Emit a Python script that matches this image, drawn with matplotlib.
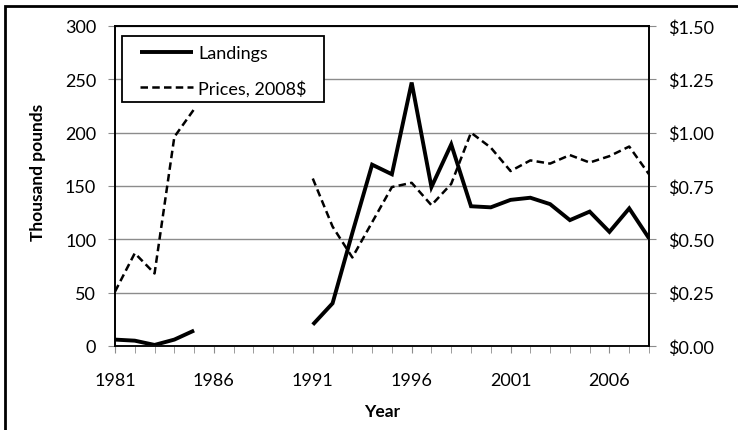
import numpy as np
import matplotlib
matplotlib.use("Agg")
import matplotlib.pyplot as plt
from matplotlib.patches import Rectangle
from matplotlib.lines import Line2D

plt.rcParams['font.family'] = ['Lato', 'DejaVu Sans']

years = list(range(1981, 2009))
landings = [6, 5, 1, 6, 14.5, None, None, None, None, None,
            20, 40, 106, 170, 161, 247, 149, 189, 131, 130,
            137, 139, 133, 118, 126, 107, 129, 101]
prices = [0.255, 0.435, 0.34, 0.98, 1.11, None, None, None, None, None,
          0.785, 0.56, 0.415, 0.58, 0.745, 0.765, 0.66, 0.76, 1.00, 0.93,
          0.82, 0.87, 0.855, 0.895, 0.86, 0.89, 0.935, 0.805]
left_ticks = [0, 50, 100, 150, 200, 250, 300]
right_ticks = [0.0, 0.25, 0.5, 0.75, 1.0, 1.25, 1.5]
right_labels = ['$0.00', '$0.25', '$0.50', '$0.75', '$1.00', '$1.25', '$1.50']
xlabels = [1981, 1986, 1991, 1996, 2001, 2006]
series_names = ['Landings', 'Prices, 2008$']

land = np.array([np.nan if v is None else v for v in landings], float)
pr = np.array([np.nan if v is None else v for v in prices], float)

W, H = 738, 431
fig = plt.figure(figsize=(W/100, H/100), dpi=100)
L, R, T, B = 115, 649, 27, 347
ax = fig.add_axes([L/W, 1-B/H, (R-L)/W, (B-T)/H])
ax2 = ax.twinx()

def px(x, y):
    return (x / W, 1 - y / H)

FS = 13
grid_c = '#8c8c8c'
ax.set_ylim(0, 300)
ax.set_xlim(1981, 2008)
ax.set_yticks(left_ticks)
ax.set_xticks(xlabels)
ax.set_xticks(years, minor=True)
ax.grid(axis='y', color=grid_c, lw=1.0)
ax.set_axisbelow(True)
ax.tick_params(axis='y', length=5, color=grid_c, labelsize=FS, pad=8.5)
ax.tick_params(axis='x', which='both', length=5, color=grid_c, labelsize=FS, pad=14)
ax2.set_ylim(0, 1.5)
ax2.set_yticks(right_ticks)
ax2.set_yticklabels(right_labels)
ax2.tick_params(axis='y', length=5, color=grid_c, labelsize=FS, pad=9)
for a in (ax, ax2):
    for s in a.spines.values():
        s.set_color('black')
        s.set_linewidth(1.2)
ax.spines['bottom'].set_color('#555555')

dash = (0, (3, 1.7))
ax.plot(years, land, color='black', lw=2.8, solid_capstyle='butt', solid_joinstyle='miter')
ax2.plot(years, pr, color='black', lw=1.8, ls=dash)

ax.set_ylabel('Thousand pounds', fontsize=12.5, fontweight='bold')
ax.yaxis.set_label_coords((46 - L) / (R - L), (B - 172) / (B - T))
ax.set_xlabel('Year', fontsize=12.5, fontweight='bold')
ax.xaxis.set_label_coords(0.5, (B - 404) / (B - T))

# legend
fig.patches.append(Rectangle(px(122, 103), 202 / W, 66 / H, transform=fig.transFigure,
                             fill=True, facecolor='white', edgecolor='black', lw=1.3, zorder=5))
rows = [(53, dict(lw=2.8, ls='-')), (88, dict(lw=1.8, ls=dash))]
for (yy, st), name in zip(rows, series_names):
    x0, y0 = px(140, yy)
    x1, _ = px(193, yy)
    fig.lines.append(Line2D([x0, x1], [y0, y0], transform=fig.transFigure, color='black',
                            solid_capstyle='butt', zorder=6, **st))
    tx, ty = px(198, yy)
    fig.text(tx, ty, name, fontsize=FS, va='center_baseline', ha='left', zorder=7)

fig.patches.append(Rectangle((5/W, -0.1), 1.2, 1 - 7/H + 0.1, transform=fig.transFigure,
                             fill=False, edgecolor='black', lw=2.0))

fig.savefig('out.png', dpi=100)
